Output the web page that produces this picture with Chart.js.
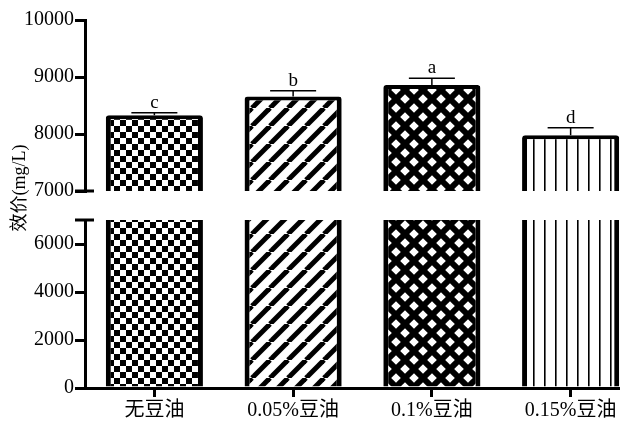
<!DOCTYPE html>
<html>
<head>
<meta charset="utf-8">
<script src="https://cdn.jsdelivr.net/npm/chart.js@4.4.1/dist/chart.umd.min.js"></script>
<style>
  html, body { margin: 0; padding: 0; background: #fff; overflow: hidden; }
  #wrap { width: 640px; height: 426px; }
</style>
</head>
<body>
<div id="wrap"><canvas id="myChart" width="640" height="426"></canvas></div>
<script>
// data
const categories = ["无豆油", "0.05%豆油", "0.1%豆油", "0.15%豆油"];
const means = [8330, 8660, 8860, 7980];
const errors = [45, 100, 117, 130];
const letters = ["c", "b", "a", "d"];
const upperTicks = [7000, 8000, 9000, 10000];
const lowerTicks = [0, 2000, 4000, 6000];
const breakAt = 7000;
const yTitle = "效价(mg/L)";

const serif = "'Liberation Serif', 'Noto Sans CJK SC', serif";
const ctx = document.getElementById("myChart").getContext("2d");

// small tiles used as fill patterns
function makePattern(size, draw) {
	const c = document.createElement("canvas");
	c.width = size;
	c.height = size;
	const g = c.getContext("2d");
	g.fillStyle = "#fff";
	g.fillRect(0, 0, size, size);
	draw(g, size);
	return ctx.createPattern(c, "repeat");
}

const checker = makePattern(12, (g) => {
	g.fillStyle = "#000";
	g.fillRect(0, 0, 6, 6);
	g.fillRect(6, 6, 6, 6);
});
const diagonal = makePattern(18, (g, s) => {
	g.strokeStyle = "#000";
	g.lineWidth = 5;
	for (const o of [-s, 0, s]) {
		g.beginPath();
		g.moveTo(o, s);
		g.lineTo(o + s, 0);
		g.stroke();
	}
});
const crosshatch = makePattern(18, (g, s) => {
	g.fillStyle = "#000";
	g.fillRect(0, 0, s, s);
	g.fillStyle = "#fff";
	const r = 4.8;
	for (const [cx, cy] of [[0, 0], [s, 0], [0, s], [s, s], [s / 2, s / 2]]) {
		g.beginPath();
		g.moveTo(cx, cy - r);
		g.lineTo(cx + r, cy);
		g.lineTo(cx, cy + r);
		g.lineTo(cx - r, cy);
		g.closePath();
		g.fill();
	}
});
const vertical = makePattern(11, (g, s) => {
	g.fillStyle = "#000";
	g.fillRect(5, 0, 1.6, s);
});
const fills = [checker, diagonal, crosshatch, vertical];

// error bars, letters, axis break caps and the y title
const extras = {
	id: "extras",
	afterDatasetsDraw(chart) {
		const { scales } = chart;
		const c = chart.ctx;
		const x = scales.x, yh = scales.yHigh, yl = scales.yLow;
		c.save();
		c.strokeStyle = "#000";
		c.fillStyle = "#000";
		means.forEach((m, i) => {
			const cx = x.getPixelForValue(i);
			const yTop = yh.getPixelForValue(m);
			const yErr = yh.getPixelForValue(m + errors[i]);
			c.lineWidth = 1.5;
			c.beginPath();
			c.moveTo(cx, yTop);
			c.lineTo(cx, yErr);
			c.moveTo(cx - 23, yErr);
			c.lineTo(cx + 23, yErr);
			c.stroke();
			c.font = "19px " + serif;
			c.textAlign = "center";
			c.textBaseline = "alphabetic";
			c.fillText(letters[i], cx, yErr - 5);
		});
		const ax = chart.chartArea.left;
		c.lineWidth = 3;
		for (const yy of [yh.getPixelForValue(breakAt), yl.getPixelForValue(breakAt)]) {
			c.beginPath();
			c.moveTo(ax - 10, yy);
			c.lineTo(ax + 9, yy);
			c.stroke();
		}
		c.translate(20, 188);
		c.rotate(-Math.PI / 2);
		c.font = "18px " + serif;
		c.textAlign = "center";
		c.textBaseline = "middle";
		c.fillText(yTitle, 0, 0);
		c.restore();
	},
};

const yCommon = {
	type: "linear",
	position: "left",
	stack: "v",
	grid: { display: true, drawOnChartArea: false, drawTicks: true, tickLength: 10, lineWidth: 3, color: "#000" },
	border: { display: true, width: 3, color: "#000" },
	ticks: { color: "#000", font: { family: serif, size: 20 }, padding: 1, callback: (v) => String(v) },
	afterFit: (s) => { s.width = 85; },
};

new Chart(ctx, {
	type: "bar",
	data: {
		labels: categories,
		datasets: [
			{
				yAxisID: "yHigh",
				data: means.map((v) => [breakAt, v]),
				backgroundColor: fills,
				borderColor: "#000",
				borderWidth: { top: 4, left: 5, right: 5, bottom: 0 },
				borderSkipped: false,
				borderRadius: { topLeft: 3, topRight: 3, bottomLeft: 0, bottomRight: 0 },
				barPercentage: 0.7,
				categoryPercentage: 1,
				grouped: false,
			},
			{
				yAxisID: "yLow",
				data: means.map((v) => [0, Math.min(v, breakAt)]),
				backgroundColor: fills,
				borderColor: "#000",
				borderWidth: { top: 0, left: 5, right: 5, bottom: 0 },
				borderSkipped: false,
				barPercentage: 0.7,
				categoryPercentage: 1,
				grouped: false,
			},
		],
	},
	options: {
		responsive: false,
		animation: false,
		devicePixelRatio: 1,
		layout: { padding: { top: 20, right: 0, bottom: 0, left: 0 } },
		plugins: { legend: { display: false }, tooltip: { enabled: false } },
		scales: {
			x: {
				type: "category",
				offset: true,
				grid: { display: true, drawOnChartArea: false, offset: false, drawTicks: true, tickLength: 9, lineWidth: 3, color: "#000" },
				border: { display: true, width: 3, color: "#000" },
				ticks: { color: "#000", font: { family: serif, size: 20 }, padding: 2, maxRotation: 0 },
				afterFit: (s) => { s.height = 38; },
			},
			yHigh: {
				...yCommon,
				weight: 3,
				stackWeight: 171,
				min: breakAt,
				max: 10000,
				afterBuildTicks: (s) => { s.ticks = upperTicks.map((v) => ({ value: v })); },
			},
			yGap: {
				type: "linear",
				position: "left",
				stack: "v",
				weight: 2,
				stackWeight: 29,
				display: false,
				min: 0,
				max: 1,
			},
			yLow: {
				...yCommon,
				weight: 1,
				stackWeight: 168,
				min: 0,
				max: breakAt,
				afterBuildTicks: (s) => { s.ticks = lowerTicks.map((v) => ({ value: v })); },
			},
		},
	},
	plugins: [extras],
});
</script>
</body>
</html>
